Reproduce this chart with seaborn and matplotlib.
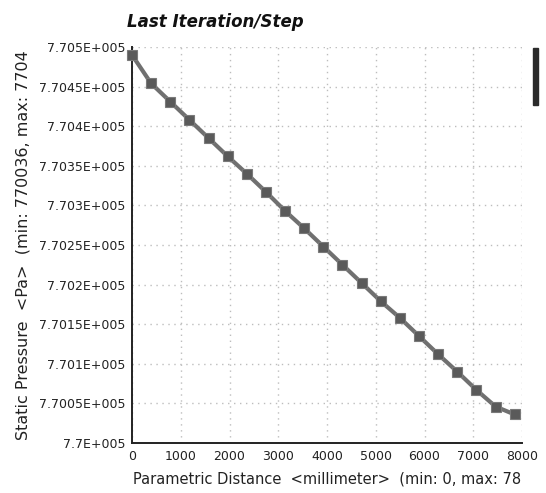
import matplotlib
matplotlib.use('Agg')
import matplotlib.pyplot as plt
import matplotlib.ticker as mticker
from matplotlib.patches import Rectangle
import pandas as pd
import seaborn as sns

# values
distance = [i * 392.5 for i in range(21)]
pressure = [770490, 770454, 770431, 770408, 770385, 770362, 770340, 770317,
            770293, 770271, 770248, 770225, 770202, 770179, 770158, 770135,
            770112, 770090, 770067, 770046, 770036]
x_ticks = [0, 1000, 2000, 3000, 4000, 5000, 6000, 7000, 8000]
y_ticks = [770000 + 50 * i for i in range(11)]

title = 'Last Iteration/Step'
xlabel = 'Parametric Distance  <millimeter>  (min: 0, max: 78'
ylabel = 'Static Pressure  <Pa>  (min: 770036, max: 7704'

df = pd.DataFrame({'distance': distance, 'pressure': pressure})

sns.set_style('white')
plt.rcParams['font.family'] = ['DejaVu Sans']

fig = plt.figure(figsize=(5.46, 4.93), dpi=100)
ax = fig.add_axes([132 / 546, 50 / 493, 390 / 546, 396 / 493])

sns.lineplot(x='distance', y='pressure', data=df, ax=ax, color='#707070',
             linewidth=3, marker='s', markersize=6.5, markerfacecolor='#5a5a5a',
             markeredgecolor='#7a7a7a', markeredgewidth=0.8, clip_on=False,
             zorder=3)

ax.set_xlim(0, 8000)
ax.set_ylim(770000, 770500)
ax.set_xticks(x_ticks)
ax.set_yticks(y_ticks)


def fmt(v, pos):
    m = f'{v / 1e5:.4f}'.rstrip('0').rstrip('.')
    return m + 'E+005'


ax.yaxis.set_major_formatter(mticker.FuncFormatter(fmt))
ax.grid(True, color='#bdbdbd', linewidth=1, linestyle=(0, (1, 3.3)))
for s in ['top', 'right']:
    ax.spines[s].set_visible(False)
for s in ['left', 'bottom']:
    ax.spines[s].set_color('#222222')
    ax.spines[s].set_linewidth(1.4)
ax.tick_params(direction='inout', length=6, width=1, colors='#222222',
               labelsize=9, pad=2)

ax.set_xlabel(xlabel, fontsize=10.5, color='#222222', labelpad=6)
ax.set_ylabel(ylabel, fontsize=11.5, color='#222222', labelpad=6)

fig.text(215 / 546, 1 - 22 / 493, title, ha='center', va='center',
         fontsize=12, fontweight='bold', fontstyle='italic', color='#111111')

# dark legend strip cut off at the right edge
fig.patches.append(Rectangle((533 / 546, 1 - 105 / 493), 5 / 546, 57 / 493,
                             transform=fig.transFigure, color='#2b2b2b'))

fig.savefig('out.png', dpi=100)
